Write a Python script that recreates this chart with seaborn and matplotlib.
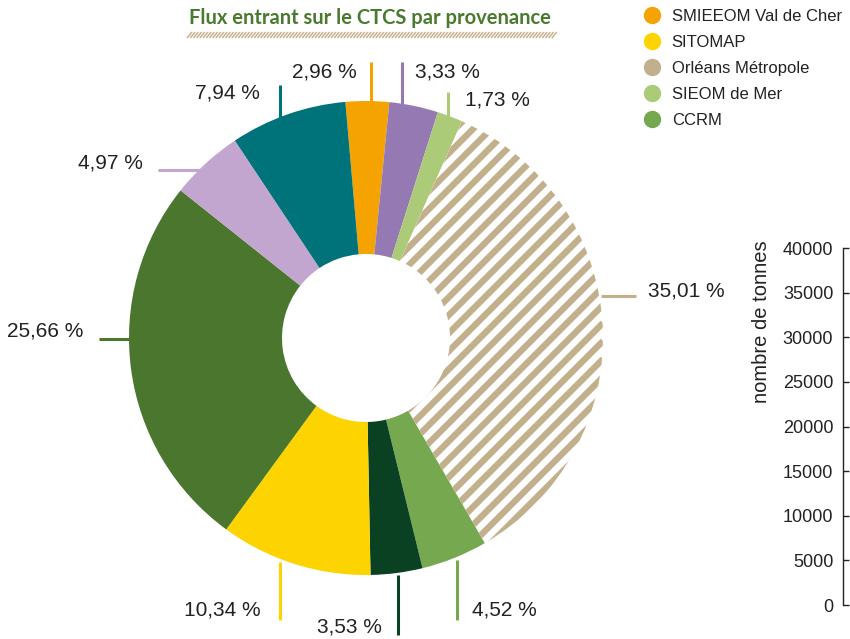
import numpy as np
import seaborn as sns
import matplotlib.pyplot as plt
from matplotlib.lines import Line2D
from matplotlib.collections import LineCollection

# slices, clockwise from the top
shares = [2.96, 3.33, 1.73, 35.01, 4.52, 3.53, 10.34, 25.66, 4.97, 7.94]
slice_colors = ['#F5A300', '#9579B3', '#ABCB78', '#C2AF8C', '#76A84F',
                '#0A4123', '#FDD300', '#4A762E', '#C2A6CF', '#00727A']
hatched = [False, False, False, True, False, False, False, False, False, False]

legend_names = ['SMIEEOM Val de Cher', 'SITOMAP', 'Orléans Métropole', 'SIEOM de Mer', 'CCRM']
legend_colors = ['#F5A300', '#FDD300', '#C2AF8C', '#ABCB78', '#76A84F']

tonnes_ticks = [0, 5000, 10000, 15000, 20000, 25000, 30000, 35000, 40000]

# leader lines (x0, y0, x1, y1) and label anchor (x, y, ha), pixel coords from top
label_layout = [
    ((371, 62, 371, 104), (357, 72, 'right')),
    ((402, 62, 402, 108), (415, 72, 'left')),
    ((448, 92, 448, 124), (465, 100, 'left')),
    ((601, 296, 636, 296), (648, 291, 'left')),
    ((457, 560, 457, 620), (472, 610, 'left')),
    ((398, 575, 398, 635), (382, 627, 'right')),
    ((280, 562, 280, 620), (261, 610, 'right')),
    ((99, 339, 131, 339), (83, 331, 'right')),
    ((158, 170, 205, 170), (143, 163, 'right')),
    ((280, 85, 280, 121), (260, 93, 'right')),
]

sns.set_theme(style='white')
plt.rcParams['font.family'] = ['Liberation Sans', 'DejaVu Sans']

W, H = 850, 639
fig = plt.figure(figsize=(8.5, 6.39), dpi=100)
ax = fig.add_axes([0, 0, 1, 1])

cx, cy, R, ring = 366, H - 338, 237, 153
wedges, _ = ax.pie(shares, colors=slice_colors, startangle=95, counterclock=False,
                   center=(cx, cy), radius=R,
                   wedgeprops=dict(width=ring, linewidth=0))

# striped fill for the hatched slice(s)
for w, h, c in zip(wedges, hatched, slice_colors):
    if h:
        w.set_facecolor('white')
        offsets = np.arange((cy - R) - (cx + R), (cy + R) - (cx - R), 18)
        stripes = [[(cx - R, cx - R + b), (cx + R, cx + R + b)] for b in offsets]
        lc = LineCollection(stripes, colors=c, linewidths=4.6, zorder=w.get_zorder() + 0.1)
        ax.add_collection(lc)
        lc.set_clip_path(w)

for v, c, (line, txt) in zip(shares, slice_colors, label_layout):
    x0, y0, x1, y1 = line
    ax.plot([x0, x1], [H - y0, H - y1], color=c, lw=2.2, solid_capstyle='butt')
    tx, ty, ha = txt
    ax.text(tx, H - ty, f'{v:.2f} %'.replace('.', ','), ha=ha, va='center',
            fontsize=15, color='#222222')

# title and its striped underline
ax.text(370, H - 18, 'Flux entrant sur le CTCS par provenance', ha='center', va='center',
        fontsize=14.5, fontweight='bold', color='#4A7A2E', family=['Lato', 'DejaVu Sans'])
xs = np.arange(187, 553, 3.2)
segs = [[(x, H - 38), (x + 5, H - 32)] for x in xs]
ax.add_collection(LineCollection(segs, colors='#C8B58F', linewidths=1.1))

ax.set_xlim(0, W)
ax.set_ylim(0, H)
ax.set_aspect('auto')
ax.axis('off')

handles = [Line2D([], [], marker='o', ls='none', markersize=12.5, color=c,
                  markeredgewidth=0) for c in legend_colors]
fig.legend(handles, legend_names, loc='upper left', bbox_to_anchor=(643 / W, 1 - 9 / H),
           frameon=False, fontsize=12, handlelength=1.1, handletextpad=0.62,
           labelspacing=0.66, borderpad=0, borderaxespad=0, labelcolor='#222222')

# lone tonnage axis on the right
bottom, top = H - 605, H - 248
ax2 = fig.add_axes([843 / W, bottom / H, 0.001, (top - bottom) / H])
ax2.set_ylim(0, 40000)
ax2.set_yticks(tonnes_ticks)
ax2.set_xticks([])
ax2.patch.set_alpha(0)
sns.despine(ax=ax2, top=True, right=True, bottom=True, left=False)
ax2.spines['left'].set_color('#222222')
ax2.spines['left'].set_linewidth(1)
ax2.tick_params(axis='y', left=True, direction='in', length=4, width=1, color='#222222',
                labelsize=13, labelcolor='#222222', pad=7)
ax2.set_ylabel('nombre de tonnes', fontsize=14.5, color='#222222')
ax2.yaxis.set_label_coords(771 / W, (H - 322) / H, transform=fig.transFigure)

fig.savefig('out.png', dpi=100)
